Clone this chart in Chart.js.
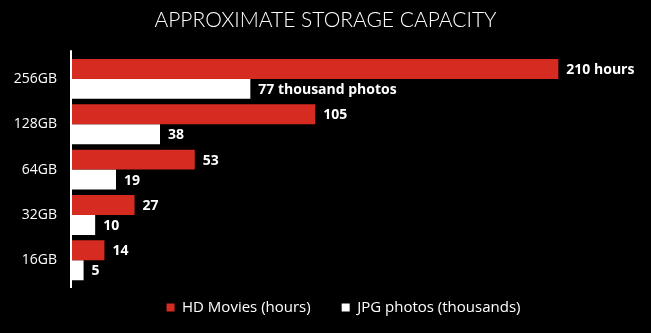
<!DOCTYPE html>
<html lang="en">
<head>
  <meta charset="UTF-8" />
  <title>Approximate storage capacity</title>
  <script src="https://cdn.jsdelivr.net/npm/chart.js"></script>
  <style>
    html, body {
      margin: 0;
      padding: 0;
      background: #000;
    }
    #wrap {
      width: 651px;
      height: 333px;
    }
  </style>
</head>
<body>
  <div id="wrap"><canvas id="chart" width="651" height="333"></canvas></div>

  <script>
    // data
    const capacities = ["256GB", "128GB", "64GB", "32GB", "16GB"];
    const movieHours = [210, 105, 53, 27, 14];
    const photoThousands = [77, 38, 19, 10, 5];
    const seriesNames = ["HD Movies (hours)", "JPG photos (thousands)"];
    const firstRowUnits = [" hours", " thousand photos"];

    const RED = "#d62b20";
    const WHITE = "#ffffff";
    const FONT = "'Open Sans', 'DejaVu Sans', sans-serif";
    const TITLE_FONT = "Lato, 'Open Sans', sans-serif";

    // numbers at the end of every bar, units only on the top row
    const valueLabels = {
      id: "valueLabels",
      afterDatasetsDraw(chart) {
        const ctx = chart.ctx;
        ctx.save();
        ctx.fillStyle = WHITE;
        ctx.font = "bold 14px " + FONT;
        ctx.textBaseline = "middle";
        ctx.textAlign = "left";
        chart.data.datasets.forEach((ds, di) => {
          chart.getDatasetMeta(di).data.forEach((bar, i) => {
            let txt = String(ds.data[i]);
            if (i === 0) txt += firstRowUnits[di];
            ctx.fillText(txt, bar.x + 8, bar.y + 1);
          });
        });
        ctx.restore();
      }
    };

    // vertical axis line, a bit longer than the plot area
    const axisLine = {
      id: "axisLine",
      afterDraw(chart) {
        const a = chart.chartArea;
        const ctx = chart.ctx;
        ctx.save();
        ctx.strokeStyle = WHITE;
        ctx.lineWidth = 2;
        ctx.beginPath();
        ctx.moveTo(a.left - 1, a.top - 6);
        ctx.lineTo(a.left - 1, a.bottom + 5);
        ctx.stroke();
        ctx.restore();
      }
    };

    // nudge the legend row up and right, where the original has it
    const legendNudge = {
      id: "legendNudge",
      afterLayout(chart) {
        const lg = chart.legend;
        if (!lg) return;
        lg.top -= 14;
        lg.bottom -= 14;
        lg.left += 18;
        lg.right += 18;
      }
    };

    new Chart(document.getElementById("chart"), {
      type: "bar",
      data: {
        labels: capacities,
        datasets: [
          {
            label: seriesNames[0],
            data: movieHours,
            backgroundColor: RED
          },
          {
            label: seriesNames[1],
            data: photoThousands,
            backgroundColor: WHITE
          }
        ]
      },
      options: {
        indexAxis: "y",
        responsive: false,
        animation: false,
        devicePixelRatio: 1,
        layout: {
          padding: 0
        },
        datasets: {
          bar: {
            categoryPercentage: 0.88,
            barPercentage: 1.0,
            borderWidth: 0
          }
        },
        scales: {
          x: {
            display: false,
            min: 0,
            max: 250
          },
          y: {
            grid: { display: false, drawTicks: false },
            border: { display: false },
            ticks: {
              color: WHITE,
              padding: 15,
              font: { family: FONT, size: 14 }
            },
            afterFit(scale) {
              scale.width = 72;
            }
          }
        },
        plugins: {
          title: {
            display: true,
            text: "APPROXIMATE STORAGE CAPACITY",
            color: WHITE,
            font: { family: TITLE_FONT, size: 21, weight: 300 },
            padding: { top: 8, bottom: 23 }
          },
          legend: {
            position: "bottom",
            maxHeight: 50,
            labels: {
              color: WHITE,
              boxWidth: 8,
              boxHeight: 8,
              padding: 31,
              font: { family: FONT, size: 15 }
            }
          },
          tooltip: { enabled: false }
        }
      },
      plugins: [valueLabels, axisLine, legendNudge]
    });
  </script>
</body>
</html>
